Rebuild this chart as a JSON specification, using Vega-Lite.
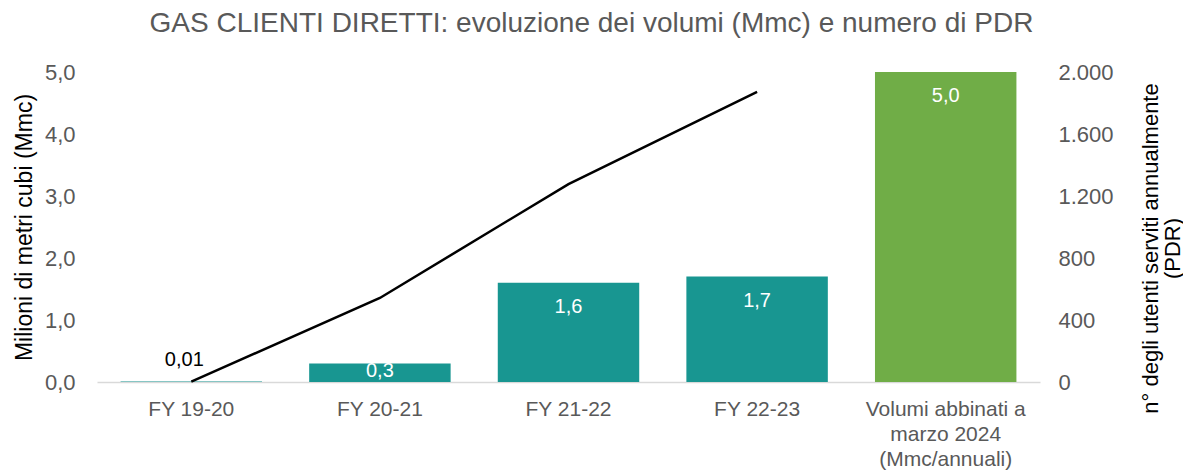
{
  "$schema": "https://vega.github.io/schema/vega-lite/v6.json",
  "width": 943,
  "height": 310,
  "autosize": "none",
  "padding": {"left": 97, "top": 72, "right": 143, "bottom": 90},
  "config": {
    "font": "Liberation Sans",
    "view": {"stroke": null},
    "locale": {"number": {"decimal": ",", "thousands": ".", "grouping": [3], "currency": ["€", ""]}}
  },
  "title": {
    "text": "GAS CLIENTI DIRETTI: evoluzione dei volumi (Mmc) e numero di PDR",
    "fontSize": 28,
    "fontWeight": "normal",
    "color": "#595959",
    "anchor": "middle",
    "frame": "group",
    "dx": 23,
    "baseline": "alphabetic",
    "offset": 1
  },
  "data": {
    "values": [
      {"cat": "FY 19-20", "vol": 0.01, "pdr": 3, "kind": "storico"},
      {"cat": "FY 20-21", "vol": 0.3, "pdr": 542, "kind": "storico"},
      {"cat": "FY 21-22", "vol": 1.6, "pdr": 1277, "kind": "storico"},
      {"cat": "FY 22-23", "vol": 1.7, "pdr": 1871, "kind": "storico"},
      {"cat": "Volumi abbinati a|marzo 2024|(Mmc/annuali)", "vol": 5.0, "pdr": null, "kind": "abbinati"}
    ]
  },
  "encoding": {
    "x": {
      "field": "cat",
      "type": "nominal",
      "sort": null,
      "scale": {"paddingInner": 0.25, "paddingOuter": 0.125},
      "axis": {
        "title": null,
        "labelAngle": 0,
        "labelExpr": "split(datum.label, '|')",
        "labelFontSize": 21,
        "labelColor": "#595959",
        "labelPadding": 16,
        "labelLineHeight": 25,
        "ticks": false,
        "domainColor": "#d9d9d9",
        "domainWidth": 1.5,
        "grid": false
      }
    }
  },
  "layer": [
    {
      "layer": [
        {
          "mark": {"type": "bar"},
          "encoding": {
            "y": {
              "field": "vol",
              "type": "quantitative",
              "scale": {"domain": [0, 5], "nice": false},
              "axis": {
                "orient": "left",
                "values": [0, 1, 2, 3, 4, 5],
                "format": ".1f",
                "domain": false,
                "ticks": false,
                "grid": false,
                "labelFontSize": 22,
                "labelColor": "#595959",
                "labelPadding": 22,
                "title": "Milioni di metri cubi (Mmc)",
                "titleFontSize": 23,
                "titleFontWeight": "normal",
                "titleColor": "#000000",
                "titleAngle": 270,
                "titleAlign": "center",
                "titleBaseline": "middle",
                "titleX": -73,
                "titleY": 155
              }
            },
            "color": {
              "field": "kind",
              "type": "nominal",
              "scale": {"domain": ["storico", "abbinati"], "range": ["#189691", "#70ad47"]},
              "legend": null
            }
          }
        },
        {
          "transform": [{"filter": "datum.vol >= 1"}],
          "mark": {"type": "text", "baseline": "middle", "dy": 24, "fontSize": 20, "color": "#ffffff"},
          "encoding": {
            "y": {"field": "vol", "type": "quantitative", "scale": {"domain": [0, 5], "nice": false}},
            "text": {"field": "vol", "type": "quantitative", "format": ".1f"}
          }
        },
        {
          "transform": [{"filter": "datum.vol > 0.1 && datum.vol < 1"}],
          "mark": {"type": "text", "baseline": "middle", "dy": 8, "fontSize": 20, "color": "#ffffff"},
          "encoding": {
            "y": {"field": "vol", "type": "quantitative", "scale": {"domain": [0, 5], "nice": false}},
            "text": {"field": "vol", "type": "quantitative", "format": ".1f"}
          }
        },
        {
          "transform": [{"filter": "datum.vol < 0.1"}],
          "mark": {"type": "text", "baseline": "middle", "dy": -21, "dx": -7, "fontSize": 20, "color": "#000000"},
          "encoding": {
            "y": {"field": "vol", "type": "quantitative", "scale": {"domain": [0, 5], "nice": false}},
            "text": {"field": "vol", "type": "quantitative", "format": ".2f"}
          }
        }
      ]
    },
    {
      "transform": [{"filter": "isValid(datum.pdr)"}],
      "mark": {"type": "line", "color": "#000000", "strokeWidth": 2.5},
      "encoding": {
        "y": {
          "field": "pdr",
          "type": "quantitative",
          "scale": {"domain": [0, 2000], "nice": false},
          "axis": {
            "orient": "right",
            "values": [0, 400, 800, 1200, 1600, 2000],
            "format": ",d",
            "domain": false,
            "ticks": false,
            "grid": false,
            "labelFontSize": 22,
            "labelColor": "#595959",
            "labelPadding": 18,
            "title": ["n° degli utenti serviti annualmente", "(PDR)"],
            "titleFontSize": 22,
            "titleFontWeight": "normal",
            "titleColor": "#000000",
            "titleAngle": 270,
            "titleAlign": "center",
            "titleBaseline": "middle",
            "titleLineHeight": 22,
            "titleX": 110,
            "titleY": 176
          }
        }
      }
    }
  ],
  "resolve": {"scale": {"y": "independent"}}
}
